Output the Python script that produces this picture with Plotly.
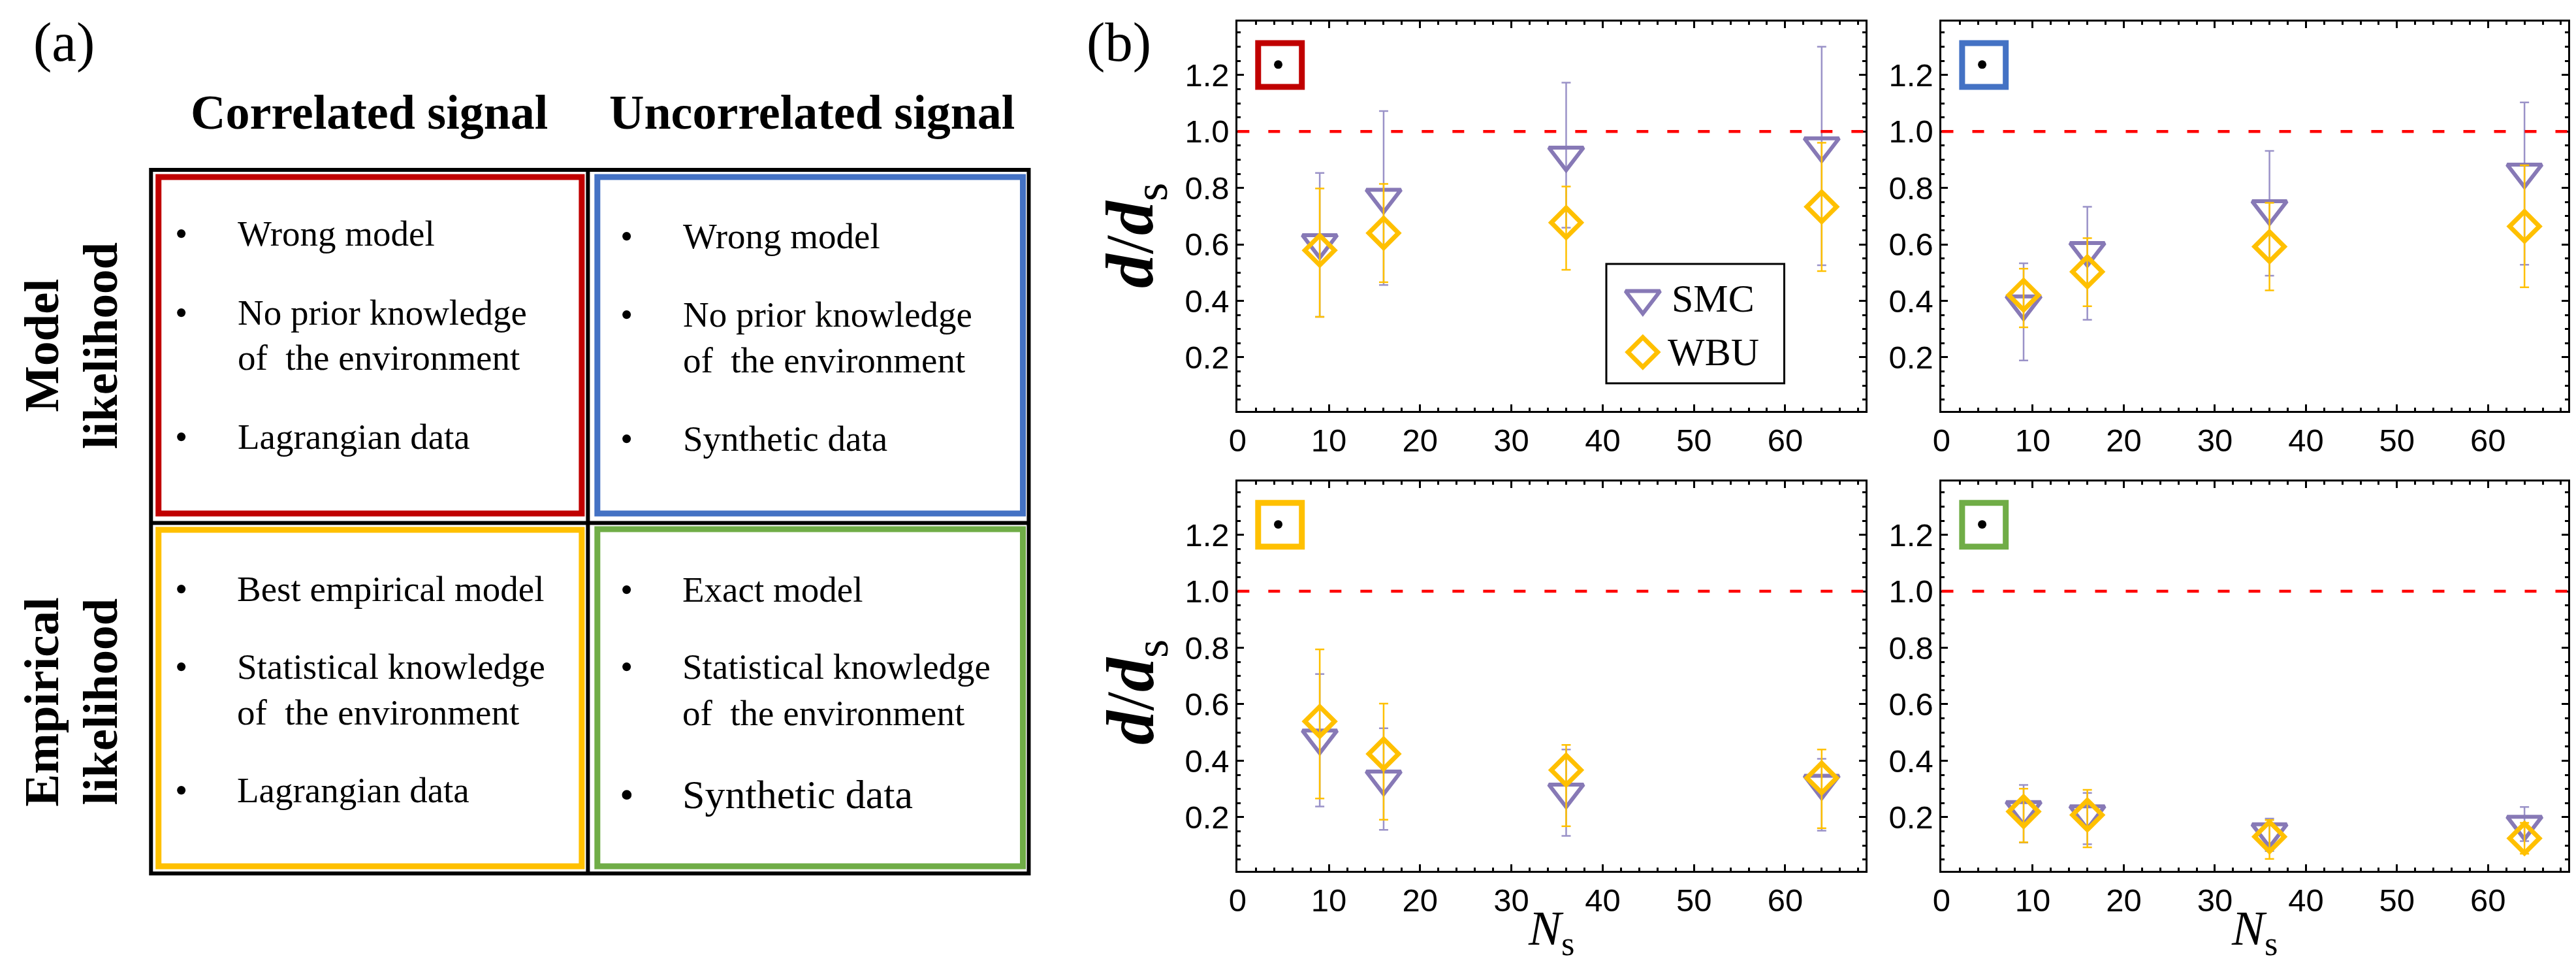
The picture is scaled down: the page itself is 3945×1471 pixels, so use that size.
import plotly.graph_objects as go

W, H = 3945, 1471

# ---------------- data (panel b) ----------------
Ns = [9, 16, 36, 64]

# red panel (correlated signal, model likelihood)
smc_red = [0.606, 0.767, 0.916, 0.949]
smc_red_hi = [0.853, 1.072, 1.173, 1.300]
smc_red_lo = [0.343, 0.456, 0.659, 0.526]
wbu_red = [0.579, 0.640, 0.677, 0.733]
wbu_red_hi = [0.798, 0.814, 0.805, 0.960]
wbu_red_lo = [0.343, 0.466, 0.510, 0.505]

# blue panel (uncorrelated signal, model likelihood)
smc_blue = [0.389, 0.578, 0.726, 0.856]
smc_blue_hi = [0.533, 0.733, 0.931, 1.103]
smc_blue_lo = [0.189, 0.333, 0.489, 0.528]
wbu_blue = [0.420, 0.503, 0.592, 0.664]
wbu_blue_hi = [0.514, 0.622, 0.747, 0.880]
wbu_blue_lo = [0.306, 0.381, 0.437, 0.448]

# yellow panel (correlated signal, empirical likelihood)
smc_yellow = [0.480, 0.335, 0.289, 0.320]
smc_yellow_hi = [0.707, 0.515, 0.440, 0.407]
smc_yellow_lo = [0.238, 0.155, 0.134, 0.152]
wbu_yellow = [0.539, 0.424, 0.367, 0.339]
wbu_yellow_hi = [0.794, 0.602, 0.456, 0.440]
wbu_yellow_lo = [0.266, 0.191, 0.168, 0.161]

# green panel (uncorrelated signal, empirical likelihood)
smc_green = [0.227, 0.212, 0.148, 0.175]
smc_green_hi = [0.314, 0.286, 0.195, 0.236]
smc_green_lo = [0.110, 0.104, 0.080, 0.115]
wbu_green = [0.220, 0.208, 0.131, 0.125]
wbu_green_hi = [0.301, 0.297, 0.190, 0.180]
wbu_green_lo = [0.111, 0.093, 0.052, 0.071]

x_ticks = [0, 10, 20, 30, 40, 50, 60]
y_ticks = [0.2, 0.4, 0.6, 0.8, 1.0, 1.2]
series_names = ["SMC", "WBU"]

# ---------------- style ----------------
PURPLE = "#8779B6"
PURPLE_ERR = "#9A92C8"
GOLD = "#FFC000"
RED_BOX = "#C00000"
BLUE_BOX = "#4472C4"
YEL_BOX = "#FFC000"
GRN_BOX = "#70AD47"
SERIF = "Liberation Serif"
SANS = "Liberation Sans"


def px(x):
    return x / W


def py(y):
    return 1 - y / H


fig = go.Figure()

# axes domains (pixels)
col_x = [(1880, 2845), (2962, 3925)]
row_y = [(24.7, 621), (728.5, 1325)]

panels = [
    (1, 0, 0, RED_BOX, smc_red, smc_red_hi, smc_red_lo, wbu_red, wbu_red_hi, wbu_red_lo),
    (2, 1, 0, BLUE_BOX, smc_blue, smc_blue_hi, smc_blue_lo, wbu_blue, wbu_blue_hi, wbu_blue_lo),
    (3, 0, 1, YEL_BOX, smc_yellow, smc_yellow_hi, smc_yellow_lo, wbu_yellow, wbu_yellow_hi, wbu_yellow_lo),
    (4, 1, 1, GRN_BOX, smc_green, smc_green_hi, smc_green_lo, wbu_green, wbu_green_hi, wbu_green_lo),
]

shapes = []
annotations = []

TRI = dict(symbol="triangle-down-open", size=46, color=PURPLE, line=dict(width=6, color=PURPLE))
DIA = dict(symbol="diamond-open", size=35, color=GOLD, line=dict(width=7, color=GOLD))

for (i, c, r, bc, s, sh, sl, w, wh, wl) in panels:
    xa = "x" if i == 1 else f"x{i}"
    ya = "y" if i == 1 else f"y{i}"
    fig.add_trace(go.Scatter(
        x=Ns, y=s, mode="markers", name=series_names[0], showlegend=False,
        xaxis=xa, yaxis=ya, marker=TRI, cliponaxis=False,
        error_y=dict(type="data", symmetric=False,
                     array=[h - v for h, v in zip(sh, s)],
                     arrayminus=[v - l for v, l in zip(s, sl)],
                     color=PURPLE_ERR, thickness=2.5, width=7),
    ))
    fig.add_trace(go.Scatter(
        x=Ns, y=w, mode="markers", name=series_names[1], showlegend=False,
        xaxis=xa, yaxis=ya, marker=DIA, cliponaxis=False,
        error_y=dict(type="data", symmetric=False,
                     array=[h - v for h, v in zip(wh, w)],
                     arrayminus=[v - l for v, l in zip(w, wl)],
                     color=GOLD, thickness=2.5, width=7),
    ))
    # red dashed reference line at d/d_s = 1
    shapes.append(dict(type="line", xref=f"{xa} domain", yref=ya, x0=0, x1=1, y0=1.0, y1=1.0,
                       line=dict(color="#FF0000", width=4.5, dash="18px,29px")))
    # coloured inset square with a dot
    shapes.append(dict(type="rect", xref=xa, yref=ya, x0=2.25, x1=7.04, y0=1.158, y1=1.313,
                       line=dict(color=bc, width=9), fillcolor="rgba(0,0,0,0)"))
    fig.add_trace(go.Scatter(x=[4.45], y=[1.237], mode="markers", showlegend=False,
                             xaxis=xa, yaxis=ya,
                             marker=dict(symbol="circle", size=13, color="black")))

    ax_common = dict(
        showline=True, linecolor="black", linewidth=3, mirror="allticks",
        ticks="inside", ticklen=10, tickwidth=3, tickcolor="black",
        showgrid=False, zeroline=False,
        tickfont=dict(family=SANS, size=49, color="black"),
    )
    xkey = "xaxis" if i == 1 else f"xaxis{i}"
    ykey = "yaxis" if i == 1 else f"yaxis{i}"
    fig.update_layout(**{
        xkey: dict(ax_common, domain=[px(col_x[c][0]), px(col_x[c][1])], range=[0, 68.8],
                   tickvals=x_ticks, anchor=ya,
                   minor=dict(ticks="inside", ticklen=5, tickwidth=2.5, tickcolor="black", dtick=2, tick0=0)),
        ykey: dict(ax_common, domain=[py(row_y[r][1]), py(row_y[r][0])], range=[0.01, 1.39],
                   tickvals=y_ticks, ticktext=[f"{v:.1f}" for v in y_ticks], anchor=xa,
                   minor=dict(ticks="inside", ticklen=5, tickwidth=2.5, tickcolor="black", dtick=0.05, tick0=0)),
    })

# ---- legend drawn inside the top-left panel ----
shapes.append(dict(type="rect", xref="x", yref="y", x0=40.4, x1=59.9, y0=0.108, y1=0.531,
                   line=dict(color="black", width=3), fillcolor="white", layer="below"))
fig.add_trace(go.Scatter(x=[44.4], y=[0.408], mode="markers", showlegend=False,
                         xaxis="x", yaxis="y", marker=TRI))
fig.add_trace(go.Scatter(x=[44.4], y=[0.218], mode="markers", showlegend=False,
                         xaxis="x", yaxis="y", marker=DIA))
annotations.append(dict(xref="x", yref="y", x=47.4, y=0.408, text=series_names[0], showarrow=False,
                        xanchor="left", yanchor="middle", font=dict(family=SERIF, size=60, color="black")))
annotations.append(dict(xref="x", yref="y", x=47.0, y=0.218, text=series_names[1], showarrow=False,
                        xanchor="left", yanchor="middle", font=dict(family=SERIF, size=60, color="black")))

# ---- axis titles ----
for yc in [352, 1051]:
    annotations.append(dict(xref="paper", yref="paper", x=px(1722), y=py(yc), showarrow=False,
                            text="<b><i>d</i></b>/<b><i>d</i></b><sub>s</sub>", textangle=-90,
                            xanchor="center", yanchor="middle",
                            font=dict(family=SERIF, size=104, color="black")))
for xc in [2362, 3443]:
    annotations.append(dict(xref="paper", yref="paper", x=px(xc), y=py(1418), showarrow=False,
                            text="<i>N</i><sub>s</sub>", xanchor="center", yanchor="middle",
                            font=dict(family=SERIF, size=75, color="black")))

# ---- panel labels ----
annotations.append(dict(xref="paper", yref="paper", x=px(76), y=py(57), text="(a)", showarrow=False,
                        xanchor="center", yanchor="middle", font=dict(family=SERIF, size=85, color="black")))
annotations.append(dict(xref="paper", yref="paper", x=px(1698), y=py(57), text="(b)", showarrow=False,
                        xanchor="center", yanchor="middle", font=dict(family=SERIF, size=85, color="black")))

# ---------------- panel (a): table ----------------
col_headers = ["Correlated signal", "Uncorrelated signal"]
row_headers = [["Model", "likelihood"], ["Empirical", "likelihood"]]
cell_red = ["Wrong model", "No prior knowledge", "of  the environment", "Lagrangian data"]
cell_blue = ["Wrong model", "No prior knowledge", "of  the environment", "Synthetic data"]
cell_yellow = ["Best empirical model", "Statistical knowledge", "of  the environment", "Lagrangian data"]
cell_green = ["Exact model", "Statistical knowledge", "of  the environment", "Synthetic data"]

BLK = dict(color="black", width=6)
shapes.append(dict(type="rect", xref="paper", yref="paper", x0=px(210), x1=px(1559), y0=py(252), y1=py(1329),
                   line=BLK, fillcolor="rgba(0,0,0,0)"))
shapes.append(dict(type="line", xref="paper", yref="paper", x0=px(881.5), x1=px(881.5), y0=py(252), y1=py(1329),
                   line=BLK))
shapes.append(dict(type="line", xref="paper", yref="paper", x0=px(210), x1=px(1559), y0=py(792.5), y1=py(792.5),
                   line=BLK))
for (x0, x1, y0, y1, colr) in [(221.5, 872, 263, 778, RED_BOX), (896, 1550, 263, 778, BLUE_BOX),
                               (221.5, 872, 803, 1318, YEL_BOX), (896, 1550, 802, 1318, GRN_BOX)]:
    shapes.append(dict(type="rect", xref="paper", yref="paper", x0=px(x0), x1=px(x1), y0=py(y0), y1=py(y1),
                       line=dict(color=colr, width=9), fillcolor="rgba(0,0,0,0)"))

for txt, xc in zip(col_headers, [545, 1226]):
    annotations.append(dict(xref="paper", yref="paper", x=px(xc), y=py(188 - 0.32 * 74), text=f"<b>{txt}</b>",
                            showarrow=False, xanchor="center", yanchor="middle",
                            font=dict(family=SERIF, size=74, color="black")))
for lines, yc in zip(row_headers, [521, 1066]):
    for ln, xc in zip(lines, [41, 131]):
        annotations.append(dict(xref="paper", yref="paper", x=px(xc), y=py(yc), text=f"<b>{ln}</b>",
                                textangle=-90, showarrow=False, xanchor="center", yanchor="middle",
                                font=dict(family=SERIF, size=75, color="black")))


def cell_text(lines, baselines, xb, xt, sizes, bullets):
    for ln, bl, fs, bu in zip(lines, baselines, sizes, bullets):
        ym = bl - 0.32 * fs
        annotations.append(dict(xref="paper", yref="paper", x=px(xt), y=py(ym), text=ln, showarrow=False,
                                xanchor="left", yanchor="middle", font=dict(family=SERIF, size=fs, color="black")))
        if bu:
            annotations.append(dict(xref="paper", yref="paper", x=px(xb), y=py(ym), text="•", showarrow=False,
                                    xanchor="center", yanchor="middle",
                                    font=dict(family=SERIF, size=fs, color="black")))


bul = [True, True, False, True]
cell_text(cell_red, [367, 488, 557, 678], 256, 341, [55, 55, 55, 55], bul)
cell_text(cell_blue, [371, 491, 561, 681], 941, 1026, [55, 55, 55, 55], bul)
cell_text(cell_yellow, [911, 1030, 1100, 1219], 256, 340, [55, 55, 55, 55], bul)
cell_text(cell_green, [912, 1030, 1101, 1228], 941, 1025, [55, 55, 55, 62], bul)

fig.update_layout(
    width=W, height=H, margin=dict(l=0, r=0, t=0, b=0),
    paper_bgcolor="white", plot_bgcolor="white",
    shapes=shapes, annotations=annotations, showlegend=False,
)

fig.write_html("out.html")
